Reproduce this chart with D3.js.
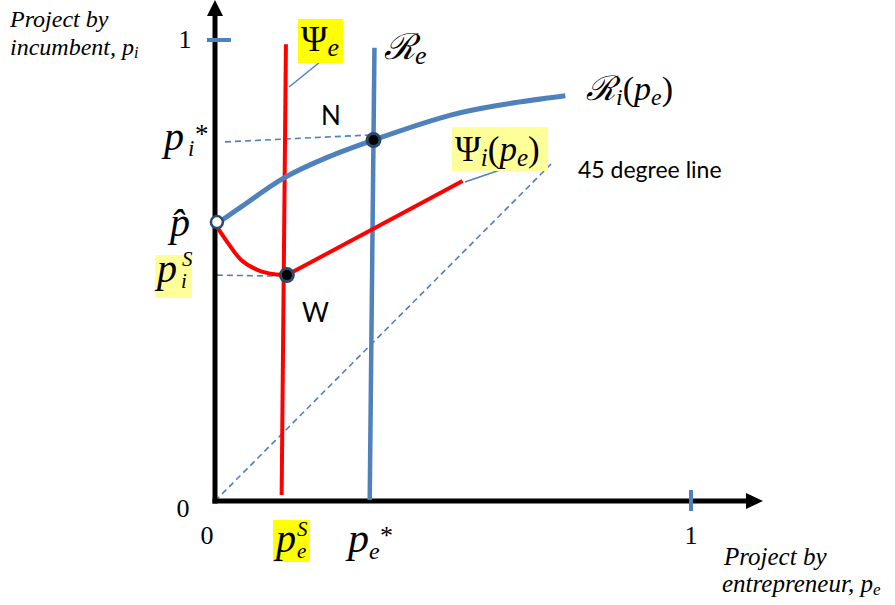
<!DOCTYPE html>
<html>
<head>
<meta charset="utf-8">
<script src="https://cdn.jsdelivr.net/npm/d3@7"></script>
<style>
  body { margin: 0; background: #fff; }
  .math { font-family: "Liberation Serif", "DejaVu Serif", serif; font-style: italic; }
  .roman { font-family: "Liberation Serif", serif; }
  .sans { font-family: Lato, "Open Sans", sans-serif; }
</style>
</head>
<body>
<svg width="895" height="605"></svg>
<script>
// axis ticks (pe and pi both run from 0 to 1)
const xTicks = [0, 1];
const yTicks = [0, 1];

// entrepreneur's reaction line Psi_e and R_e (nearly vertical)
const psiE = [[0.149, 0.991], [0.140, 0.013]];
const rE = [[0.335, 0.983], [0.325, 0.002]];

// incumbent's reaction curve R_i(pe)
const rI = [[0.006, 0.603], [0.055, 0.638], [0.145, 0.701], [0.237, 0.746],
            [0.333, 0.783], [0.495, 0.837], [0.600, 0.859], [0.736, 0.879]];

// Psi_i(pe): curved drop from p-hat to W, then straight
const psiICurve = [[0.006, 0.592], [0.027, 0.560], [0.055, 0.523], [0.090, 0.501],
                   [0.124, 0.492], [0.151, 0.490]];
const psiILine = [[0.151, 0.490], [0.520, 0.694]];

// 45 degree line and dashed guides
const diag = [[0, 0], [0.706, 0.731]];
const piStarGuide = [[0.021, 0.779], [0.325, 0.794]];
const piSGuide = [[0.004, 0.490], [0.122, 0.488]];

// marked points
const pHat = [0.004, 0.605];
const pointN = [0.333, 0.783];
const pointW = [0.151, 0.490];

const svg = d3.select("svg");
const blue = "#4f81bd", red = "#ff0000", dot = "#2c4a6e";

const x = d3.scaleLinear().domain([0, 1]).range([215, 691]);
const y = d3.scaleLinear().domain([0, 1]).range([501, 40]);
const line = d3.line().x(d => x(d[0])).y(d => y(d[1]));
const curve = d3.line().x(d => x(d[0])).y(d => y(d[1])).curve(d3.curveCatmullRom);

// dashed lines first (underneath)
[diag, piStarGuide, piSGuide].forEach(d => {
  svg.append("path").attr("d", line(d))
    .attr("fill", "none").attr("stroke", blue)
    .attr("stroke-width", 1.6).attr("stroke-dasharray", "6,4");
});

// axes
const g = svg.append("g");
g.append("line").attr("x1", x(0)).attr("x2", x(0)).attr("y1", y(0) + 2.5).attr("y2", 14)
  .attr("stroke", "#000").attr("stroke-width", 5);
g.append("path").attr("d", `M${x(0) - 8},16 L${x(0)},0 L${x(0) + 8},16 Z`).attr("fill", "#000");
g.append("line").attr("x1", x(0) - 2.5).attr("x2", 748).attr("y1", y(0)).attr("y2", y(0))
  .attr("stroke", "#000").attr("stroke-width", 5);
g.append("path").attr("d", `M746,${y(0) - 8} L763,${y(0)} L746,${y(0) + 8} Z`).attr("fill", "#000");

// blue tick marks at 1
g.append("line").attr("x1", x(1)).attr("x2", x(1)).attr("y1", y(0) - 11).attr("y2", y(0) + 10)
  .attr("stroke", blue).attr("stroke-width", 4);
g.append("line").attr("x1", x(0) - 8).attr("x2", x(0) + 16).attr("y1", y(1)).attr("y2", y(1))
  .attr("stroke", blue).attr("stroke-width", 4);

// tick labels
svg.append("text").attr("class", "roman").attr("font-size", 26)
  .attr("x", x(xTicks[0]) - 8).attr("y", 544).attr("text-anchor", "middle").text(xTicks[0]);
svg.append("text").attr("class", "roman").attr("font-size", 26)
  .attr("x", x(xTicks[1])).attr("y", 544).attr("text-anchor", "middle").text(xTicks[1]);
svg.append("text").attr("class", "roman").attr("font-size", 26)
  .attr("x", 183).attr("y", y(yTicks[0]) + 16).attr("text-anchor", "middle").text(yTicks[0]);
svg.append("text").attr("class", "roman").attr("font-size", 26)
  .attr("x", 185).attr("y", y(yTicks[1]) + 8).attr("text-anchor", "middle").text(yTicks[1]);

// curves
svg.append("path").attr("d", line(psiE)).attr("fill", "none").attr("stroke", red).attr("stroke-width", 4);
svg.append("path").attr("d", line(rE)).attr("fill", "none").attr("stroke", blue).attr("stroke-width", 4.5);
svg.append("path").attr("d", curve(rI)).attr("fill", "none").attr("stroke", blue).attr("stroke-width", 5);
svg.append("path").attr("d", curve(psiICurve)).attr("fill", "none").attr("stroke", red).attr("stroke-width", 4);
svg.append("path").attr("d", line(psiILine)).attr("fill", "none").attr("stroke", red).attr("stroke-width", 4);

// points
svg.append("circle").attr("cx", x(pHat[0])).attr("cy", y(pHat[1])).attr("r", 6)
  .attr("fill", "#fff").attr("stroke", dot).attr("stroke-width", 2.5);
[pointN, pointW].forEach(p => {
  svg.append("circle").attr("cx", x(p[0])).attr("cy", y(p[1])).attr("r", 6.5)
    .attr("fill", "#000").attr("stroke", dot).attr("stroke-width", 3);
});

// leader lines
svg.append("line").attr("x1", 320).attr("y1", 62).attr("x2", 289).attr("y2", 87)
  .attr("stroke", blue).attr("stroke-width", 1.5);
svg.append("line").attr("x1", 500).attr("y1", 170).attr("x2", 465).attr("y2", 182)
  .attr("stroke", blue).attr("stroke-width", 1.5);

// highlight boxes
svg.append("rect").attr("x", 298).attr("y", 19).attr("width", 45).attr("height", 44).attr("fill", "#ffff00");
svg.append("rect").attr("x", 452).attr("y", 127).attr("width", 96).attr("height", 44).attr("fill", "#ffff99");
svg.append("rect").attr("x", 155).attr("y", 255).attr("width", 37).attr("height", 43).attr("fill", "#ffff99");
svg.append("rect").attr("x", 273).attr("y", 520).attr("width", 37).attr("height", 42).attr("fill", "#ffff00");

// math labels: inline runs
function mathText(px, py, parts) {
  const t = svg.append("text").attr("class", "math").attr("x", px).attr("y", py);
  parts.forEach(p => {
    t.append("tspan").text(p.t).attr("font-size", p.s)
      .attr("dy", p.dy || 0).attr("dx", p.dx || 0)
      .style("font-style", p.up ? "normal" : "italic");
  });
  return t;
}
// a single piece of a label at an absolute spot
function piece(px, py, txt, size, upright) {
  svg.append("text").attr("class", "math").attr("x", px).attr("y", py)
    .attr("font-size", size).style("font-style", upright ? "normal" : "italic").text(txt);
}
mathText(301, 51, [{t: "Ψ", s: 36, up: true}, {t: "e", s: 26, dy: 5}]);
mathText(384, 59, [{t: "ℛ", s: 36}, {t: "e", s: 26, dy: 5}]);
mathText(586, 100, [{t: "ℛ", s: 34}, {t: "i", s: 24, dy: 5}, {t: "(", s: 34, dy: -5, up: true},
                    {t: "p", s: 34}, {t: "e", s: 24, dy: 5}, {t: ")", s: 34, dy: -5, up: true}]);
mathText(455, 161, [{t: "Ψ", s: 35, up: true}, {t: "i", s: 25, dy: 5}, {t: "(", s: 35, dy: -5, up: true},
                    {t: "p", s: 35}, {t: "e", s: 25, dy: 5}, {t: ")", s: 35, dy: -5, up: true}]);

// p_i^*
piece(164, 150, "p", 40);
piece(188, 156, "i", 23);
piece(195, 143, "*", 27, true);
// p-hat
piece(170, 236, "p\u0302", 40);
// p_i^S
piece(157, 282, "p", 40);
piece(181, 288, "i", 21);
piece(182, 266, "S", 21);
// p_e^S
piece(276, 552, "p", 40);
piece(297, 558, "e", 21);
piece(297, 536, "S", 21);
// p_e^*
piece(348, 552, "p", 42);
piece(369, 559, "e", 24);
piece(380, 544, "*", 26, true);

// plain labels
svg.append("text").attr("class", "sans").attr("font-size", 26).attr("x", 321).attr("y", 125).text("N");
svg.append("text").attr("class", "sans").attr("font-size", 26).attr("x", 302).attr("y", 322).text("W");
svg.append("text").attr("class", "sans").attr("font-size", 23).attr("x", 578).attr("y", 178).text("45 degree line");

// axis titles
const yTitle = svg.append("text").attr("class", "math").attr("font-size", 24);
yTitle.append("tspan").attr("x", 10).attr("y", 27).text("Project by");
yTitle.append("tspan").attr("x", 10).attr("y", 55).text("incumbent, p");
yTitle.append("tspan").attr("font-size", 16).attr("dy", 3).text("i");

const xTitle = svg.append("text").attr("class", "math").attr("font-size", 25);
xTitle.append("tspan").attr("x", 724).attr("y", 565).text("Project by");
xTitle.append("tspan").attr("x", 722).attr("y", 592).text("entrepreneur, p");
xTitle.append("tspan").attr("font-size", 17).attr("dy", 3).text("e");
</script>
</body>
</html>
